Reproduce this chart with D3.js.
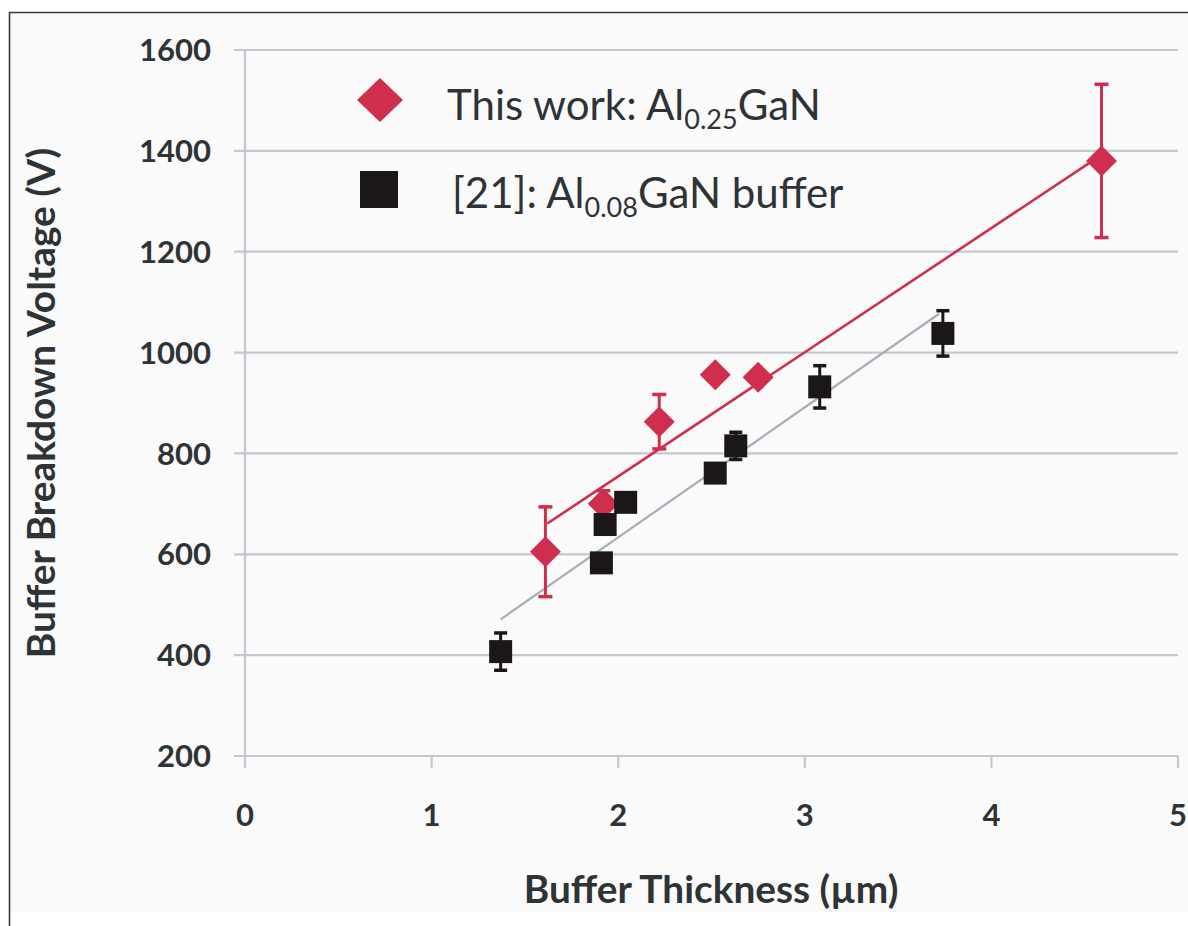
<!DOCTYPE html>
<html><head><meta charset="utf-8">
<script src="https://cdn.jsdelivr.net/npm/d3@7"></script>
<style>body{margin:0;background:#fff}svg{display:block}</style>
</head><body>
<svg id="c" width="1188" height="926"></svg>
<script>
// ---- data ----
const xTicks = [0, 1, 2, 3, 4, 5];
const yTicks = [200, 400, 600, 800, 1000, 1200, 1400, 1600];
const redX = [1.61, 1.92, 2.22, 2.52, 2.75, 4.59];
const redY = [605, 700, 863, 956, 951, 1380];
const redErr = [89, 26, 54, 0, 0, 152];
const blackX = [1.37, 1.91, 1.93, 2.04, 2.52, 2.63, 3.08, 3.74];
const blackY = [407, 583, 659, 703, 761, 815, 932, 1038];
const blackErr = [37, 0, 0, 0, 0, 27, 42, 45];
const redFit = [[1.62, 661], [4.59, 1392]];
const blackFit = [[1.37, 471], [3.72, 1077]];
const xTitle = "Buffer Thickness (\u00b5m)";
const yTitle = "Buffer Breakdown Voltage (V)";

// ---- layout ----
const svg = d3.select("#c");
const x = d3.scaleLinear().domain([0, 5]).range([245, 1178]);
const y = d3.scaleLinear().domain([200, 1600]).range([756, 50]);
const RED = "#cf2f4c", BLACK = "#1b1718", GRID = "#c3c7cf", TXT = "#2e3336";

svg.append("rect").attr("x", 9).attr("y", 12).attr("width", 1179).attr("height", 900).attr("fill", "#fafafa");
svg.append("path").attr("d", "M9.5,926 V12.5 H1188").attr("fill", "none").attr("stroke", "#3a3a3a").attr("stroke-width", 1.6);

// gridlines
svg.append("g").selectAll("line").data(yTicks).join("line")
  .attr("x1", x(0) - 11).attr("x2", x(5)).attr("y1", d => y(d)).attr("y2", d => y(d))
  .attr("stroke", GRID).attr("stroke-width", 2.2);
// y axis line
svg.append("line").attr("x1", x(0)).attr("x2", x(0)).attr("y1", y(1600)).attr("y2", y(200) + 12)
  .attr("stroke", GRID).attr("stroke-width", 2.2);
// x ticks
svg.append("g").selectAll("line").data(xTicks).join("line")
  .attr("x1", d => x(d)).attr("x2", d => x(d)).attr("y1", y(200)).attr("y2", y(200) + 12)
  .attr("stroke", GRID).attr("stroke-width", 2.2);

const font = "Lato, 'Open Sans', sans-serif";
svg.append("g").selectAll("text").data(yTicks).join("text")
  .attr("x", 211).attr("y", d => y(d)).attr("dy", "0.36em").attr("text-anchor", "end")
  .attr("font-family", font).attr("font-weight", 700).attr("font-size", 31).attr("fill", TXT)
  .text(d => d);
svg.append("g").selectAll("text").data(xTicks).join("text")
  .attr("x", d => x(d)).attr("y", 815).attr("dy", "0.36em").attr("text-anchor", "middle")
  .attr("font-family", font).attr("font-weight", 700).attr("font-size", 31).attr("fill", TXT)
  .text(d => d);

svg.append("text").attr("x", 711).attr("y", 903).attr("text-anchor", "middle")
  .attr("font-family", font).attr("font-weight", 700).attr("font-size", 38.8).attr("fill", TXT).text(xTitle);
svg.append("text").attr("transform", "translate(55,403) rotate(-90)").attr("text-anchor", "middle")
  .attr("font-family", font).attr("font-weight", 700).attr("font-size", 38.8).attr("fill", TXT).text(yTitle);

// fit lines
const line = d3.line().x(d => x(d[0])).y(d => y(d[1]));
svg.append("path").attr("d", line(blackFit)).attr("stroke", "#a7adb9").attr("stroke-width", 2.2).attr("fill", "none");
svg.append("path").attr("d", line(redFit)).attr("stroke", RED).attr("stroke-width", 2.6).attr("fill", "none");

function series(xs, ys, es, color, shape, size, capW) {
  const g = svg.append("g");
  const pts = xs.map((v, i) => ({x: v, y: ys[i], e: es[i]}));
  const eb = pts.filter(d => d.e > 0);
  g.selectAll(".v").data(eb).join("line").attr("x1", d => x(d.x)).attr("x2", d => x(d.x))
    .attr("y1", d => y(d.y - d.e)).attr("y2", d => y(d.y + d.e)).attr("stroke", color).attr("stroke-width", 3);
  [1, -1].forEach(s => {
    g.selectAll(".c" + s).data(eb).join("line").attr("x1", d => x(d.x) - capW / 2).attr("x2", d => x(d.x) + capW / 2)
      .attr("y1", d => y(d.y + s * d.e)).attr("y2", d => y(d.y + s * d.e)).attr("stroke", color).attr("stroke-width", 3.5);
  });
  g.selectAll("path.m").data(pts).join("path")
    .attr("transform", d => `translate(${x(d.x)},${y(d.y)})`)
    .attr("d", shape === "diamond" ? `M0,${-size/2}L${size/2},0L0,${size/2}L${-size/2},0Z`
                                   : `M${-size/2},${-size/2}h${size}v${size}h${-size}Z`)
    .attr("fill", color);
}
series(redX, redY, redErr, RED, "diamond", 31, 14);
series(blackX, blackY, blackErr, BLACK, "square", 23, 13);

// legend
svg.append("path").attr("transform", "translate(380,100)").attr("d", "M0,-22L23,0L0,22L-23,0Z").attr("fill", RED);
svg.append("rect").attr("x", 360).attr("y", 171).attr("width", 38).attr("height", 37).attr("fill", BLACK);
function legText(xs, yb, a, sub, b) {
  const t = svg.append("text").attr("x", xs).attr("y", yb).attr("font-family", font).attr("font-size", 42).attr("fill", TXT);
  t.append("tspan").text(a);
  t.append("tspan").attr("font-size", 27).attr("dy", 9).text(sub);
  t.append("tspan").attr("dy", -9).text(b);
}
legText(447, 120, "This work: Al", "0.25", "GaN");
legText(452, 208, "[21]: Al", "0.08", "GaN buffer");
</script>
</body></html>
